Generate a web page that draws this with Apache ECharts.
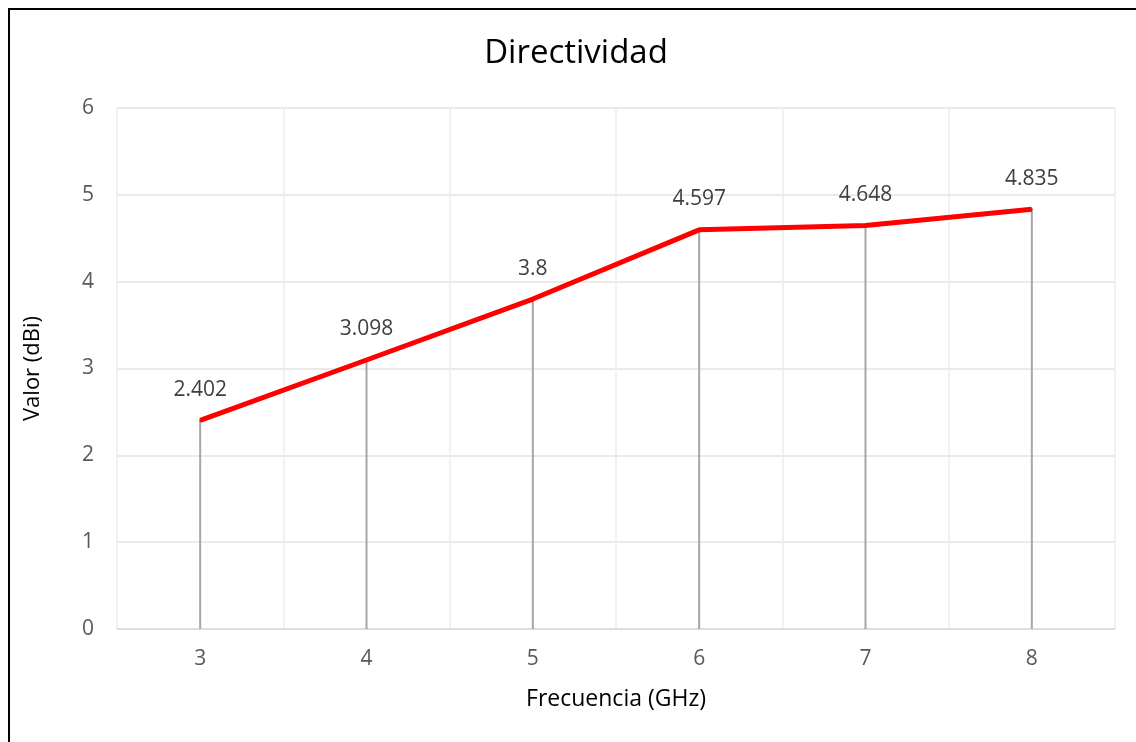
<!DOCTYPE html>
<html>
<head>
<meta charset="utf-8">
<script src="https://cdn.jsdelivr.net/npm/echarts@6/dist/echarts.min.js"></script>
<style>
html,body{margin:0;padding:0;background:#fff;}
#frame{position:absolute;left:8px;top:8px;width:1140px;height:750px;border-left:2px solid #000;border-top:2px solid #000;box-sizing:border-box;}
#chart{position:absolute;left:0;top:0;width:1136px;height:742px;}
</style>
</head>
<body>
<div id="frame"></div>
<div id="chart"></div>
<script>
const categories = ['3', '4', '5', '6', '7', '8'];
const directividad = [2.402, 3.098, 3.8, 4.597, 4.648, 4.835];
const yTicks = [0, 1, 2, 3, 4, 5, 6];

const FONT = '"Open Sans", "Liberation Sans", sans-serif';
const chart = echarts.init(document.getElementById('chart'), null, {renderer: 'canvas'});
chart.setOption({
  backgroundColor: 'transparent',
  animation: false,
  title: {
    text: 'Directividad',
    left: 571,
    textAlign: 'center',
    top: 32,
    textStyle: {fontFamily: FONT, fontSize: 33, fontWeight: 'normal', color: '#000'}
  },
  grid: {left: 117, top: 108, right: 21, bottom: 113, containLabel: false},
  xAxis: {
    type: 'category',
    data: categories,
    boundaryGap: true,
    name: 'Frecuencia (GHz)',
    nameLocation: 'middle',
    nameGap: 59,
    nameTextStyle: {fontFamily: FONT, fontSize: 23, color: '#000'},
    axisLine: {show: true, lineStyle: {color: '#d9d9d9', width: 1.5}},
    axisTick: {show: false},
    axisLabel: {fontFamily: FONT, fontSize: 21, color: '#595959', margin: 20},
    splitLine: {show: true, lineStyle: {color: '#ececec', width: 1.5}}
  },
  yAxis: {
    type: 'value',
    min: yTicks[0],
    max: yTicks[yTicks.length - 1],
    interval: 1,
    name: 'Valor (dBi)',
    nameLocation: 'middle',
    nameGap: 73,
    nameTextStyle: {fontFamily: FONT, fontSize: 22, color: '#000'},
    axisLine: {show: false},
    axisTick: {show: false},
    axisLabel: {fontFamily: FONT, fontSize: 21, color: '#595959', margin: 23},
    splitLine: {show: true, lineStyle: {color: '#e3e3e3', width: 1.5}}
  },
  series: [
    {
      type: 'bar',
      data: directividad,
      barWidth: 2,
      itemStyle: {color: '#a6a6a6'},
      z: 1,
      silent: true
    },
    {
      type: 'line',
      data: directividad,
      symbol: 'circle',
      symbolSize: 2,
      showSymbol: true,
      itemStyle: {color: '#ff0000'},
      lineStyle: {color: '#ff0000', width: 5},
      z: 3,
      label: {
        show: true,
        position: 'top',
        distance: 19,
        fontFamily: FONT,
        fontSize: 21,
        color: '#404040'
      }
    }
  ]
});
</script>
</body>
</html>
